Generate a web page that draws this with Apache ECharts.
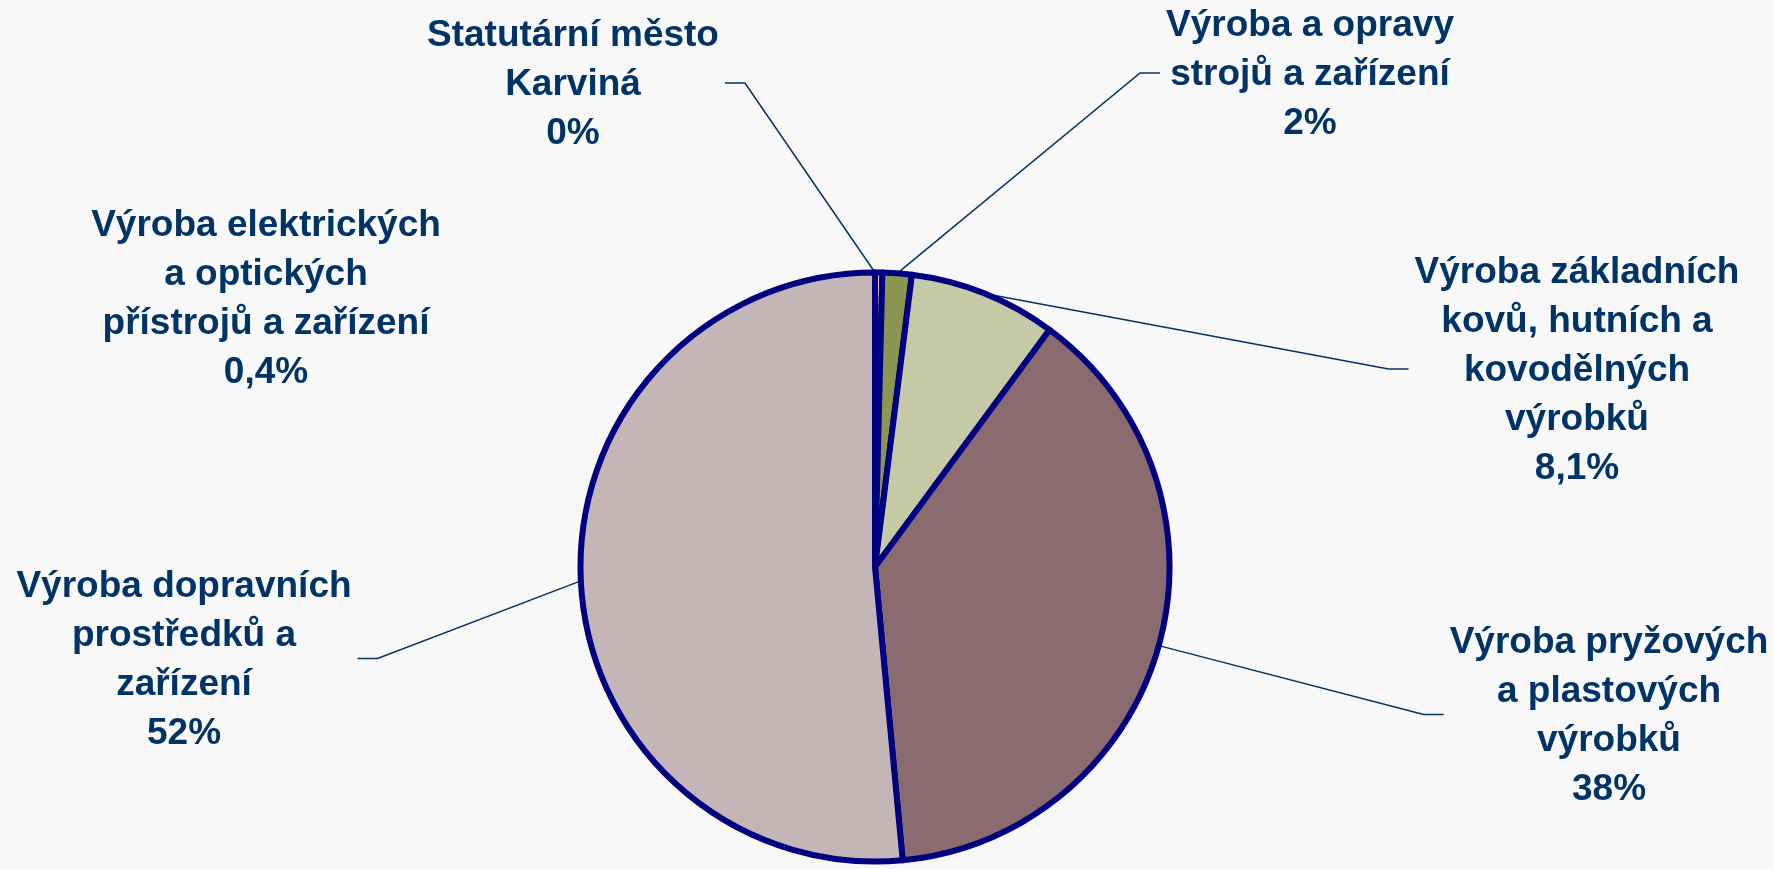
<!DOCTYPE html>
<html>
<head>
<meta charset="utf-8">
<script src="https://cdn.jsdelivr.net/npm/echarts@6/dist/echarts.min.js"></script>
<style>
  html, body { margin: 0; padding: 0; background: #f8f8f8; }
  #main { width: 1773px; height: 869px; }
</style>
</head>
<body>
<div id="main"></div>
<script>
// data
var categories = [
  'Statutární město\nKarviná',
  'Výroba elektrických\na optických\npřístrojů a zařízení',
  'Výroba a opravy\nstrojů a zařízení',
  'Výroba základních\nkovů, hutních a\nkovodělných\nvýrobků',
  'Výroba pryžových\na plastových\nvýrobků',
  'Výroba dopravních\nprostředků a\nzařízení'
];
var values = [0, 0.4, 1.6, 8.1, 38.4, 51.5];
var pctLabels = ['0%', '0,4%', '2%', '8,1%', '38%', '52%'];
var colors = ['#d9d9d9', '#f2caa2', '#8c9650', '#c5c9a6', '#8a6b70', '#c4b6b7'];

// label placement: [center x, first line middle y]
var labelPos = [[573, 36], [266, 226], [1310, 26], [1577, 273], [1609, 643], [184, 587]];
var showLine = [true, false, true, true, true, true];
var pieCenter = [875, 567];
var lineH = 49;

var myChart = echarts.init(document.getElementById('main'));

var seriesData = [];
for (var i = 0; i < values.length; i++) {
  seriesData.push({
    name: categories[i],
    value: values[i],
    itemStyle: { color: colors[i] },
    labelLine: { show: showLine[i] }
  });
}

var option = {
  backgroundColor: '#f8f8f8',
  animation: false,
  series: [
    {
      type: 'pie',
      center: pieCenter,
      radius: 294.5,
      startAngle: 90,
      clockwise: true,
      avoidLabelOverlap: false,
      itemStyle: { borderColor: '#000080', borderWidth: 6 },
      label: {
        show: true,
        position: 'outside',
        color: '#003366',
        fontFamily: 'Liberation Sans, Arial, sans-serif',
        fontWeight: 'bold',
        fontSize: 37,
        lineHeight: lineH,
        formatter: function (p) {
          return p.name + '\n' + pctLabels[p.dataIndex];
        }
      },
      labelLine: {
        show: true,
        lineStyle: { color: '#003366', width: 1.5 }
      },
      emphasis: { disabled: true },
      labelLayout: function (params) {
        var i = params.dataIndex;
        var pos = labelPos[i];
        var w = params.labelRect.width;
        var h = params.labelRect.height;
        var top = pos[1] - lineH / 2;
        var out = { x: pos[0], y: top, align: 'center', verticalAlign: 'top' };
        if (showLine[i] && params.labelLinePoints) {
          var p0 = params.labelLinePoints[0];
          var my = top + h / 2 - 2;
          var left = pos[0] < pieCenter[0];
          var ex = left ? pos[0] + w / 2 + 6 : pos[0] - w / 2 - 6;
          var tx = left ? ex + 20 : ex - 20;
          out.labelLinePoints = [p0, [tx, my], [ex, my]];
        }
        return out;
      },
      data: seriesData
    }
  ]
};

myChart.setOption(option);
</script>
</body>
</html>
